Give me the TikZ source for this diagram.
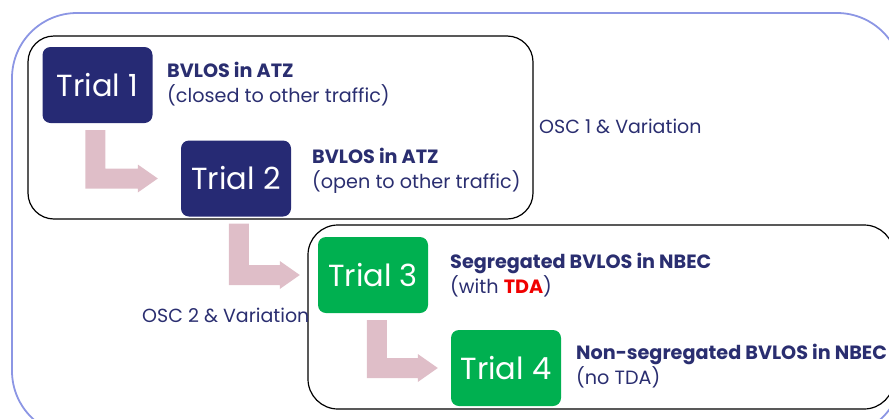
\documentclass[tikz,border=0pt]{standalone}
\usepackage{fontspec}
\setmainfont{Poppins}
\usetikzlibrary{calc}
\definecolor{navy}{RGB}{38,42,116}
\definecolor{navytext}{RGB}{42,46,112}
\definecolor{trialgreen}{RGB}{0,176,80}
\definecolor{arrowpink}{RGB}{223,190,200}
\definecolor{outerblue}{RGB}{140,150,228}
\definecolor{tdared}{RGB}{240,0,0}
\tikzset{
  trialbox/.style={rounded corners=8pt, minimum width=110pt, minimum height=76pt,
    inner sep=0pt, text=white, font=\fontsize{30.5}{33}\selectfont},
  navybox/.style={trialbox, fill=navy},
  greenbox/.style={trialbox, fill=trialgreen},
  grpbox/.style={draw=black, line width=1.2pt, rounded corners=26pt},
  lbl/.style={anchor=west, align=left, inner sep=0pt, text=navytext,
    font=\fontsize{19.2}{25}\selectfont},
  osc/.style={anchor=west, inner sep=0pt, text=navytext, font=\fontsize{19}{20}\selectfont},
}
\newcommand\blockarrow[4]{%
  \fill[arrowpink] let \p1=(#1.south west), \p2=(#2.west) in
    (\x1+#3, \y1-7pt) -- (\x1+#3+20pt, \y1-7pt) -- (\x1+#3+20pt, \y2+10pt)
    -- (\x2-#4-20pt, \y2+10pt) -- (\x2-#4-20pt, \y2+14pt) -- (\x2-#4, \y2)
    -- (\x2-#4-20pt, \y2-14pt) -- (\x2-#4-20pt, \y2-10pt) -- (\x1+#3, \y2-10pt) -- cycle;}
\begin{document}
\begin{tikzpicture}[x=1pt,y=-1pt]
\useasboundingbox (0,0) rectangle (889,418);
% outer frame
\draw[outerblue, line width=1.8pt, rounded corners=65pt] (12,13) rectangle (902,436);
% group boxes
\draw[grpbox] (28,36) rectangle (533,219);
\draw[grpbox, rounded corners=30pt] (308,225) rectangle (894,409);
% trial boxes
\node[navybox] (t1) at (97.5,85) {Trial 1};
\node[navybox] (t2) at (236,178.5) {Trial 2};
\node[greenbox] (t3) at (373,275) {Trial 3};
\node[greenbox] (t4) at (506,368) {Trial 4};
% labels
\node[lbl] (l1) at (167,84) {\textbf{BVLOS in ATZ}\\(closed to other traffic)};
\node[lbl] (l2) at (312,171) {\textbf{BVLOS in ATZ}\\(open to other traffic)};
\node[lbl] (l3) at (450,275) {\textbf{Segregated BVLOS in NBEC}\\(with \textcolor{tdared}{\textbf{TDA}})};
\node[lbl] (l4) at (576,366.5) {\textbf{Non-segregated BVLOS in NBEC}\\(no TDA)};
\node[osc] (o1) at (539,126) {OSC 1 \& Variation};
\node[osc] (o2) at (142,315) {OSC 2 \& Variation};
% arrows
\blockarrow{t1}{t2}{43pt}{23pt}
\blockarrow{t2}{t3}{48pt}{18pt}
\blockarrow{t3}{t4}{49pt}{13pt}
\end{tikzpicture}
\end{document}
